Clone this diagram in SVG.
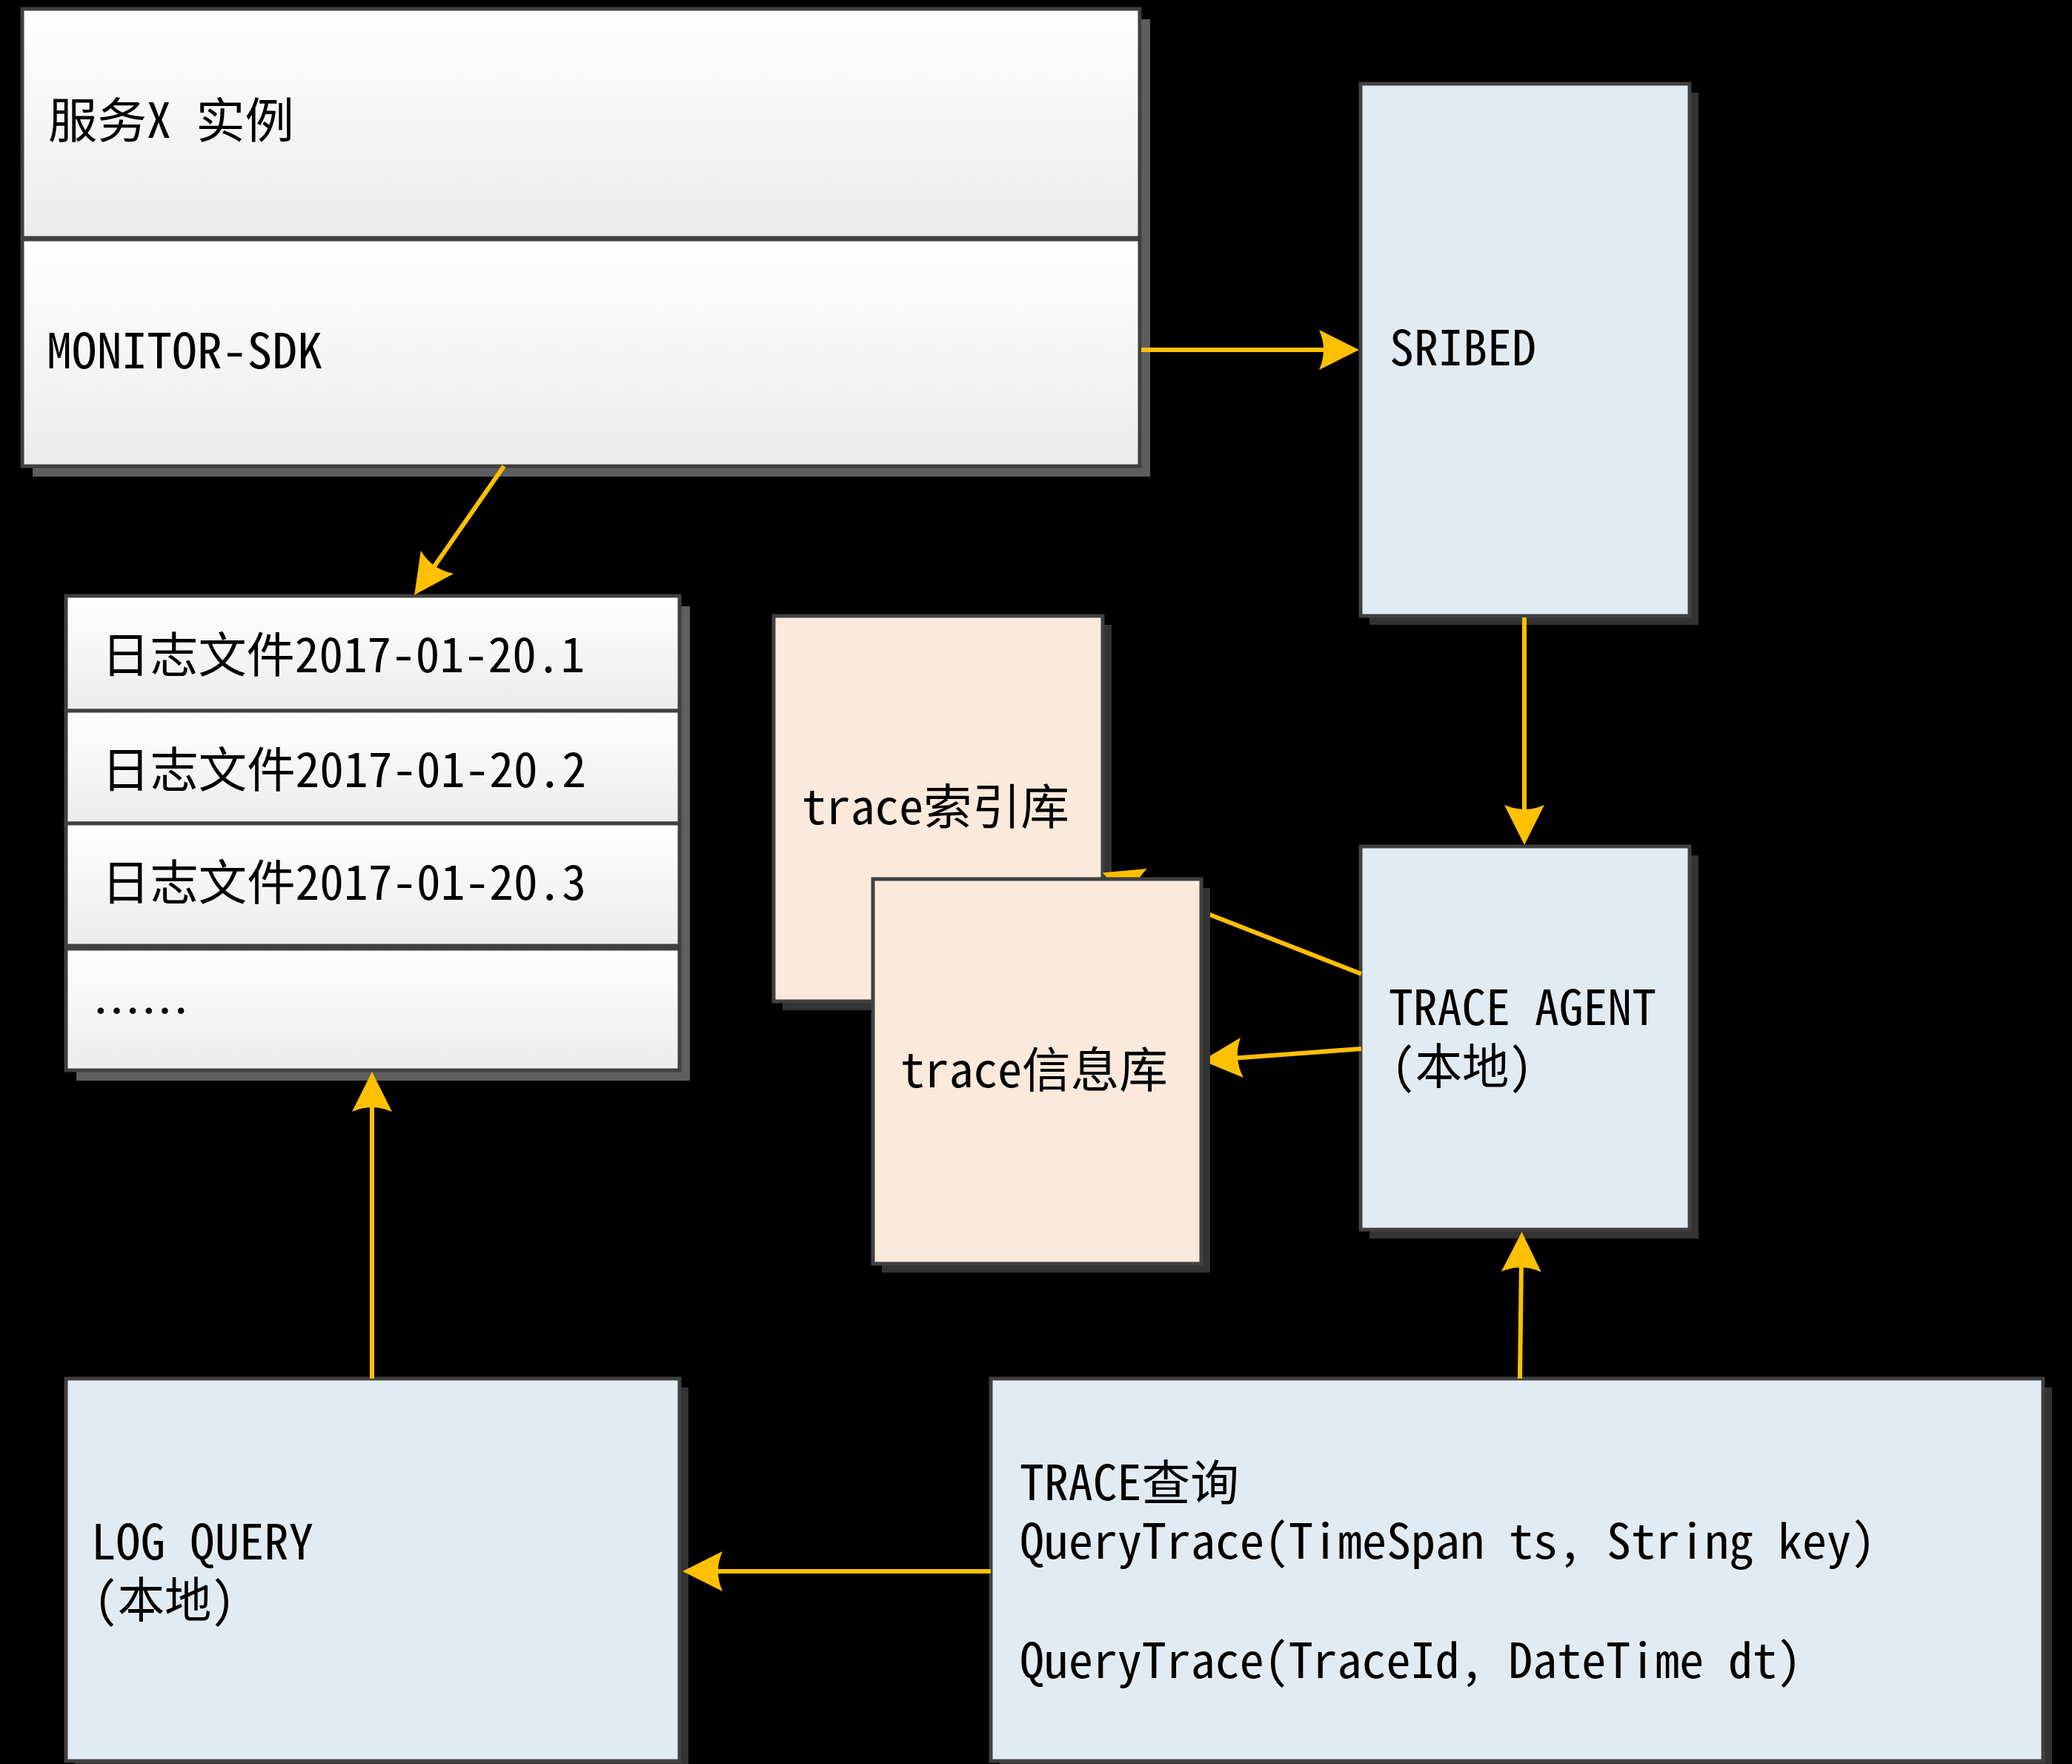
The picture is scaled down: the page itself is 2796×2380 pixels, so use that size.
<svg xmlns="http://www.w3.org/2000/svg" width="2796" height="2380" viewBox="0 0 2796 2380">
  <style>
    .box { stroke: #404040; stroke-width: 5; }
    .blue { fill: #e1ebf4; }
    .peach { fill: #fbe9db; }
    .grey { fill: url(#silver); }
    .shadow-dark { fill: #333333; }
    .shadow-light { fill: #5e5e5e; }
    .lbl { font-family: "Noto Sans Mono CJK SC", "Noto Sans CJK SC", sans-serif; font-size: 65px; fill: #000000; }
    .wire { fill: none; stroke: #ffc000; stroke-width: 6; }
  </style>
  <defs>
    <linearGradient id="silver" x1="0" y1="0" x2="0" y2="1">
      <stop offset="0" stop-color="#ffffff"/>
      <stop offset="1" stop-color="#ececec"/>
    </linearGradient>
    <marker id="head" markerUnits="userSpaceOnUse" viewBox="-20 -30 64 60" markerWidth="64" markerHeight="60" refX="0" refY="0" orient="auto" overflow="visible">
      <path d="M40,0 L-14,-27 Q-2,0 -14,27 Z" fill="#ffc000"/>
    </marker>
  </defs>

  <rect width="2796" height="2380" fill="#000000"/>

  <!-- service instance with embedded SDK -->
  <g id="service-x">
    <rect class="shadow-light" x="44" y="26" width="1508" height="617"/>
    <rect class="box grey" x="30" y="12" width="1508" height="309"/>
    <rect class="box grey" x="30" y="323" width="1508" height="306"/>
    <text class="lbl" x="65" y="186" textLength="332" lengthAdjust="spacingAndGlyphs">服务X 实例</text>
    <text class="lbl" x="63" y="497" textLength="372" lengthAdjust="spacingAndGlyphs">MONITOR-SDK</text>
  </g>

  <g id="sribed">
    <rect class="shadow-dark" x="1848" y="125" width="444" height="718"/>
    <rect class="box blue" x="1836" y="113" width="444" height="718"/>
    <text class="lbl" x="1875" y="493" textLength="198" lengthAdjust="spacingAndGlyphs">SRIBED</text>
  </g>

  <!-- local log files -->
  <g id="log-files">
    <rect class="shadow-light" x="103" y="818" width="828" height="640"/>
    <rect class="box grey" x="89" y="804" width="828" height="155"/>
    <rect class="box grey" x="89" y="959" width="828" height="152"/>
    <rect class="box grey" x="89" y="1111" width="828" height="165"/>
    <rect class="box grey" x="89" y="1280" width="828" height="164"/>
    <text class="lbl" x="137" y="907" textLength="652" lengthAdjust="spacingAndGlyphs">日志文件2017-01-20.1</text>
    <text class="lbl" x="137" y="1062" textLength="654" lengthAdjust="spacingAndGlyphs">日志文件2017-01-20.2</text>
    <text class="lbl" x="137" y="1214" textLength="654" lengthAdjust="spacingAndGlyphs">日志文件2017-01-20.3</text>
    <text class="lbl" x="125" y="1388" textLength="130" lengthAdjust="spacingAndGlyphs">……</text>
  </g>

  <g id="trace-index-db">
    <rect class="shadow-dark" x="1056" y="843" width="444" height="520"/>
    <rect class="box peach" x="1044" y="831" width="444" height="520"/>
    <text class="lbl" x="1082" y="1112" textLength="361" lengthAdjust="spacingAndGlyphs">trace索引库</text>
  </g>

  <g id="trace-agent">
    <rect class="shadow-dark" x="1848" y="1154" width="444" height="517"/>
    <rect class="box blue" x="1836" y="1142" width="444" height="517"/>
    <text class="lbl"><tspan x="1874" y="1383" textLength="361" lengthAdjust="spacingAndGlyphs">TRACE AGENT</tspan><tspan x="1878" y="1462" textLength="190" lengthAdjust="spacingAndGlyphs">(本地)</tspan></text>
  </g>

  <g id="log-query">
    <rect class="shadow-dark" x="101" y="1872" width="828" height="516"/>
    <rect class="box blue" x="89" y="1860" width="828" height="516"/>
    <text class="lbl"><tspan x="123" y="2104" textLength="300" lengthAdjust="spacingAndGlyphs">LOG QUERY</tspan><tspan x="127" y="2182" textLength="190" lengthAdjust="spacingAndGlyphs">(本地)</tspan></text>
  </g>

  <g id="trace-query">
    <rect class="shadow-dark" x="1349" y="1872" width="1420" height="516"/>
    <rect class="box blue" x="1337" y="1860" width="1420" height="516"/>
    <text class="lbl"><tspan x="1376" y="2024" textLength="296" lengthAdjust="spacingAndGlyphs">TRACE查询</tspan><tspan x="1376" y="2103" textLength="1155" lengthAdjust="spacingAndGlyphs">QueryTrace(TimeSpan ts, String key)</tspan><tspan x="1376" y="2264" textLength="1055" lengthAdjust="spacingAndGlyphs">QueryTrace(TraceId, DateTime dt)</tspan></text>
  </g>

  <!-- connectors -->
  <g id="connectors">
    <line class="wire" x1="1540" y1="472" x2="1794" y2="472" marker-end="url(#head)"/>
    <line class="wire" x1="680" y1="629" x2="582" y2="770" marker-end="url(#head)"/>
    <line class="wire" x1="2057" y1="833" x2="2057" y2="1100" marker-end="url(#head)"/>
    <line class="wire" x1="1837" y1="1314" x2="1525" y2="1192" marker-end="url(#head)"/>
    <line class="wire" x1="1837" y1="1415" x2="1662" y2="1428" marker-end="url(#head)"/>
    <line class="wire" x1="2051" y1="1860" x2="2053" y2="1702" marker-end="url(#head)"/>
    <line class="wire" x1="502" y1="1860" x2="502" y2="1486" marker-end="url(#head)"/>
    <line class="wire" x1="1337" y1="2120" x2="961" y2="2120" marker-end="url(#head)"/>
  </g>

  <!-- drawn last: overlaps the index store and hides the end of its connector -->
  <g id="trace-info-db">
    <rect class="shadow-dark" x="1190" y="1198" width="443" height="519"/>
    <rect class="box peach" x="1178" y="1186" width="443" height="519"/>
    <text class="lbl" x="1215" y="1467" textLength="361" lengthAdjust="spacingAndGlyphs">trace信息库</text>
  </g>
</svg>
